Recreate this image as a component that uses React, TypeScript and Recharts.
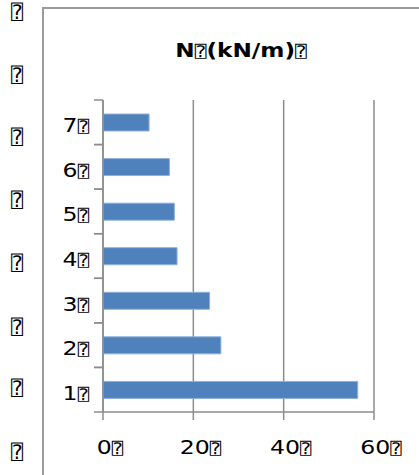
import React from 'react';
import { BarChart, Bar, XAxis, YAxis, CartesianGrid } from 'recharts';

const BOX = '\u2370';
const floors = ['1', '2', '3', '4', '5', '6', '7'];
const nValues = [56.4, 26.1, 23.6, 16.4, 15.8, 14.7, 10.2];
const xTicks = [0, 20, 40, 60];
const titleParts = ['N', BOX, '(kN/m)', BOX];
const sideMarks = [BOX, BOX, BOX, BOX, BOX, BOX, BOX, BOX];

const data = floors.map((f) => ({ floor: f }));
data.forEach((d: any, i) => { d.value = nValues[i]; });

const W = 419;
const H = 475;
const PLOT_TOP = 100;
const PLOT_BOTTOM = 412;
const PLOT_LEFT = 103;
const PLOT_RIGHT = 374;
const GRID = '#8c8c8c';
const FRAME = '#9b9b9b';
const FONT = '"DejaVu Sans", Verdana, sans-serif';
const BOXFONT = '"DejaVu Sans Mono", "DejaVu Sans", monospace';
const STRETCH = 1.18;

const Box = ({ size }: { size: number }) => (
  <tspan fontFamily={BOXFONT} fontWeight="normal" fontSize={size}>{BOX}</tspan>
);

const YTick = (props: any) => {
  const { x, y, payload } = props;
  const half = payload && payload.offset ? payload.offset : (PLOT_BOTTOM - PLOT_TOP) / 14;
  return (
    <g>
      <line x1={x - 9} x2={x} y1={y - half} y2={y - half} stroke={GRID} strokeWidth={1.5} />
      <line x1={x - 9} x2={x} y1={y + half} y2={y + half} stroke={GRID} strokeWidth={1.5} />
      <text
        transform={`translate(${x - 14},${y + 10}) scale(${STRETCH},1)`}
        textAnchor="end"
        fontFamily={FONT}
        fontSize={20}
        fill="#000"
      >
        {payload.value}
        <Box size={16} />
      </text>
    </g>
  );
};

const XTick = (props: any) => {
  const { x, y, payload } = props;
  return (
    <text
      transform={`translate(${x + 7},${y + 34}) scale(${STRETCH},1)`}
      textAnchor="middle"
      fontFamily={FONT}
      fontSize={20}
      fill="#000"
    >
      {payload.value}
      <Box size={16} />
    </text>
  );
};

const sideY = [12, 75, 137, 200, 263, 327, 388, 452];

export default function App() {
  return (
    <div style={{ position: 'absolute', left: 0, top: 0, width: W, height: H, background: '#fff' }}>
      <div style={{ position: 'absolute', left: 0, top: 0 }}>
        <BarChart
          width={W}
          height={H}
          data={data}
          layout="vertical"
          margin={{ top: PLOT_TOP, right: W - PLOT_RIGHT, left: PLOT_LEFT - 60, bottom: H - PLOT_BOTTOM - 40 }}
        >
          <CartesianGrid horizontal={false} stroke={GRID} strokeWidth={1.5} />
          <XAxis
            type="number"
            domain={[0, 60]}
            ticks={xTicks}
            height={40}
            axisLine={{ stroke: GRID, strokeWidth: 1.5 }}
            tickLine={{ stroke: GRID, strokeWidth: 1.5 }}
            tickSize={8}
            tickMargin={0}
            tick={<XTick />}
            interval={0}
          />
          <YAxis
            type="category"
            dataKey="floor"
            reversed
            width={60}
            axisLine={{ stroke: GRID, strokeWidth: 1.5 }}
            tickLine={false}
            tickSize={0}
            tickMargin={0}
            tick={<YTick />}
            interval={0}
          />
          <Bar dataKey="value" fill="#4F81BD" stroke="#8fb0d9" strokeWidth={1} barSize={17} isAnimationActive={false} />
        </BarChart>
      </div>
      <div style={{ position: 'absolute', left: 42, top: 7, width: 377, height: 2, background: FRAME }} />
      <div style={{ position: 'absolute', left: 42, top: 7, width: 2, height: 468, background: FRAME }} />
      <svg width={W} height={H} style={{ position: 'absolute', left: 0, top: 0, pointerEvents: 'none' }}>
        <text
          transform={`translate(241,56.5) scale(1.22,1)`}
          textAnchor="middle"
          fontFamily={FONT}
          fontWeight="bold"
          fontSize={19}
          fill="#000"
        >
          {titleParts.map((p, i) => (p === BOX ? <Box key={i} size={16} /> : <tspan key={i}>{p}</tspan>))}
        </text>
        {sideMarks.map((m, i) => (
          <text key={i} x={17} y={sideY[i] + 7} textAnchor="middle" fontFamily={BOXFONT} fontSize={20} fill="#000">
            {m}
          </text>
        ))}
      </svg>
    </div>
  );
}
